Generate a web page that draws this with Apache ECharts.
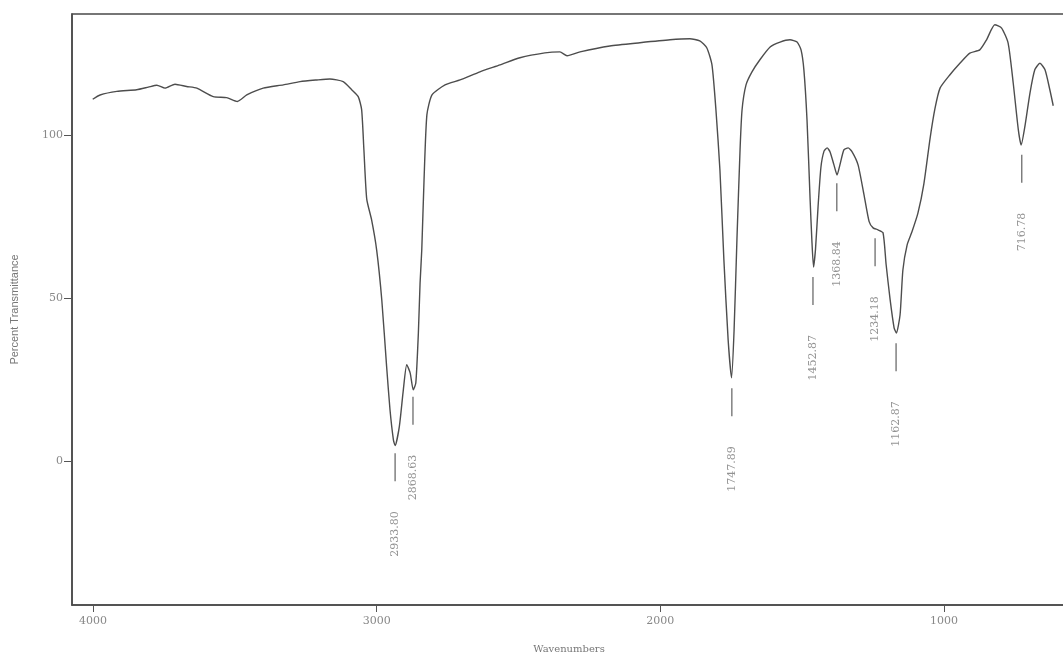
<!DOCTYPE html>
<html>
<head>
<meta charset="utf-8">
<title>IR spectrum</title>
<script src="https://cdn.jsdelivr.net/npm/echarts@6/dist/echarts.min.js"></script>
<style>
  html, body { margin: 0; padding: 0; background: #fff; }
  #chart { width: 1063px; height: 655px; }
</style>
</head>
<body>
<div id="chart"></div>
<script>
// wavenumber (cm-1) and percent transmittance
const wavenumbers = [
  4001, 3975, 3916, 3846, 3805, 3775, 3746, 3711, 3670, 3634,
  3576, 3529, 3491, 3458, 3400, 3329, 3270, 3211, 3165, 3118,
  3088, 3065, 3053, 3045, 3035, 3018, 3000, 2982, 2965, 2953,
  2941, 2935, 2920, 2906, 2894, 2882, 2871, 2862, 2853, 2847,
  2841, 2833, 2823, 2805, 2759, 2706, 2636, 2565, 2495, 2407,
  2354, 2329, 2283, 2178, 2072, 1966, 1896, 1861, 1836, 1818,
  1804, 1790, 1776, 1761, 1749, 1740, 1730, 1719, 1712, 1698,
  1677, 1649, 1613, 1578, 1543, 1518, 1504, 1494, 1483, 1472,
  1466, 1460, 1453, 1444, 1434, 1423, 1412, 1402, 1388, 1377,
  1367, 1353, 1338, 1324, 1303, 1282, 1264, 1250, 1233, 1215,
  1204, 1190, 1176, 1168, 1155, 1145, 1130, 1113, 1092, 1071,
  1049, 1032, 1014, 979, 944, 909, 874, 850, 821, 797,
  774, 756, 738, 728, 715, 697, 680, 662, 644, 627,
  615
];
const transmittance = [
  110.9, 112.2, 113.3, 113.8, 114.6, 115.2, 114.3, 115.5, 114.8, 114.3,
  111.7, 111.4, 110.2, 112.2, 114.3, 115.3, 116.3, 116.8, 117.1, 116.3,
  113.8, 111.7, 107.7, 95.4, 80.3, 74.0, 64.7, 49.5, 29.1, 15.8,
  6.6, 4.8, 10.7, 21.9, 29.6, 27.1, 21.9, 24.0, 39.3, 54.6,
  64.8, 86.2, 106.1, 112.2, 115.3, 116.8, 119.3, 121.4, 123.6, 125.1,
  125.4, 124.2, 125.4, 127.2, 128.2, 129.1, 129.4, 128.8, 126.6, 121.4,
  107.6, 89.3, 61.7, 37.2, 25.6, 40.3, 67.9, 95.4, 107.6, 115.3,
  119.3, 123.0, 126.9, 128.4, 129.1, 128.4, 126.0, 119.9, 104.6, 80.1,
  68.0, 59.5, 65.0, 78.0, 90.0, 95.0, 96.0, 94.8, 90.8, 87.7,
  90.8, 95.4, 96.0, 94.8, 90.8, 81.6, 73.4, 71.5, 70.9, 70.0,
  60.2, 49.5, 40.9, 39.3, 44.8, 58.6, 66.3, 70.3, 76.0, 85.0,
  99.0, 108.0, 114.3, 118.4, 121.9, 125.0, 126.0, 129.1, 133.7, 132.7,
  128.1, 115.8, 101.5, 96.9, 102.5, 112.8, 119.9, 121.9, 119.9, 113.8,
  108.9
];

// peak markers: position of the short tick below each band and its label
const peakWn = [2935, 2872, 1748, 1462, 1378, 1243, 1169, 726];
const peakT = [-1.8, 15.5, 18.1, 52.2, 80.9, 64.0, 31.9, 89.6];
const peakLabels = ['2933.80', '2868.63', '1747.89', '1452.87', '1368.84', '1234.18', '1162.87', '716.78'];

const xTicks = [4000, 3000, 2000, 1000];
const yTicks = [0, 50, 100];

const chart = echarts.init(document.getElementById('chart'));

const serif = 'DejaVu Serif';

const option = {
  animation: false,
  backgroundColor: '#fff',
  grid: {
    left: 72,
    right: -3,
    top: 14,
    bottom: 50,
    outerBoundsMode: 'none',
    show: true,
    borderColor: '#4a4a4a',
    borderWidth: 1.5
  },
  xAxis: {
    type: 'value',
    inverse: true,
    min: 570,
    max: 4074,
    name: 'Wavenumbers',
    nameLocation: 'middle',
    nameGap: 39,
    nameTextStyle: { fontFamily: serif, fontSize: 10, color: '#777' },
    axisLine: { show: true, onZero: false, lineStyle: { color: '#4a4a4a', width: 1.5 } },
    axisTick: { show: true, length: 7, customValues: xTicks, lineStyle: { color: '#555' } },
    axisLabel: {
      customValues: xTicks,
      formatter: v => String(v),
      margin: 11,
      fontFamily: serif,
      fontSize: 11,
      color: '#888'
    },
    splitLine: { show: false }
  },
  yAxis: {
    type: 'value',
    min: -44,
    max: 137,
    name: 'Percent Transmittance',
    nameLocation: 'middle',
    nameGap: 52,
    nameRotate: 90,
    nameTextStyle: { fontFamily: 'Liberation Sans', fontSize: 11, color: '#777' },
    axisLine: { show: true, onZero: false, lineStyle: { color: '#4a4a4a', width: 1.5 } },
    axisTick: { show: true, length: 8, customValues: yTicks, lineStyle: { color: '#555' } },
    axisLabel: {
      customValues: yTicks,
      formatter: v => String(v),
      margin: 9,
      fontFamily: serif,
      fontSize: 11,
      color: '#888'
    },
    splitLine: { show: false }
  },
  series: [
    {
      name: 'spectrum',
      type: 'line',
      data: wavenumbers.map((w, i) => [w, transmittance[i]]),
      showSymbol: false,
      smooth: 0.2,
      lineStyle: { color: '#4d4d4d', width: 1.4 }
    },
    {
      name: 'peaks',
      type: 'scatter',
      data: peakWn.map((w, i) => [w, peakT[i]]),
      symbol: 'rect',
      symbolSize: [1.4, 28],
      itemStyle: { color: '#555' },
      label: {
        show: true,
        formatter: p => peakLabels[p.dataIndex],
        position: ['50%', 58],
        rotate: 90,
        align: 'right',
        verticalAlign: 'middle',
        fontFamily: serif,
        fontSize: 11,
        color: '#777'
      }
    }
  ]
};

chart.setOption(option);
</script>
</body>
</html>
